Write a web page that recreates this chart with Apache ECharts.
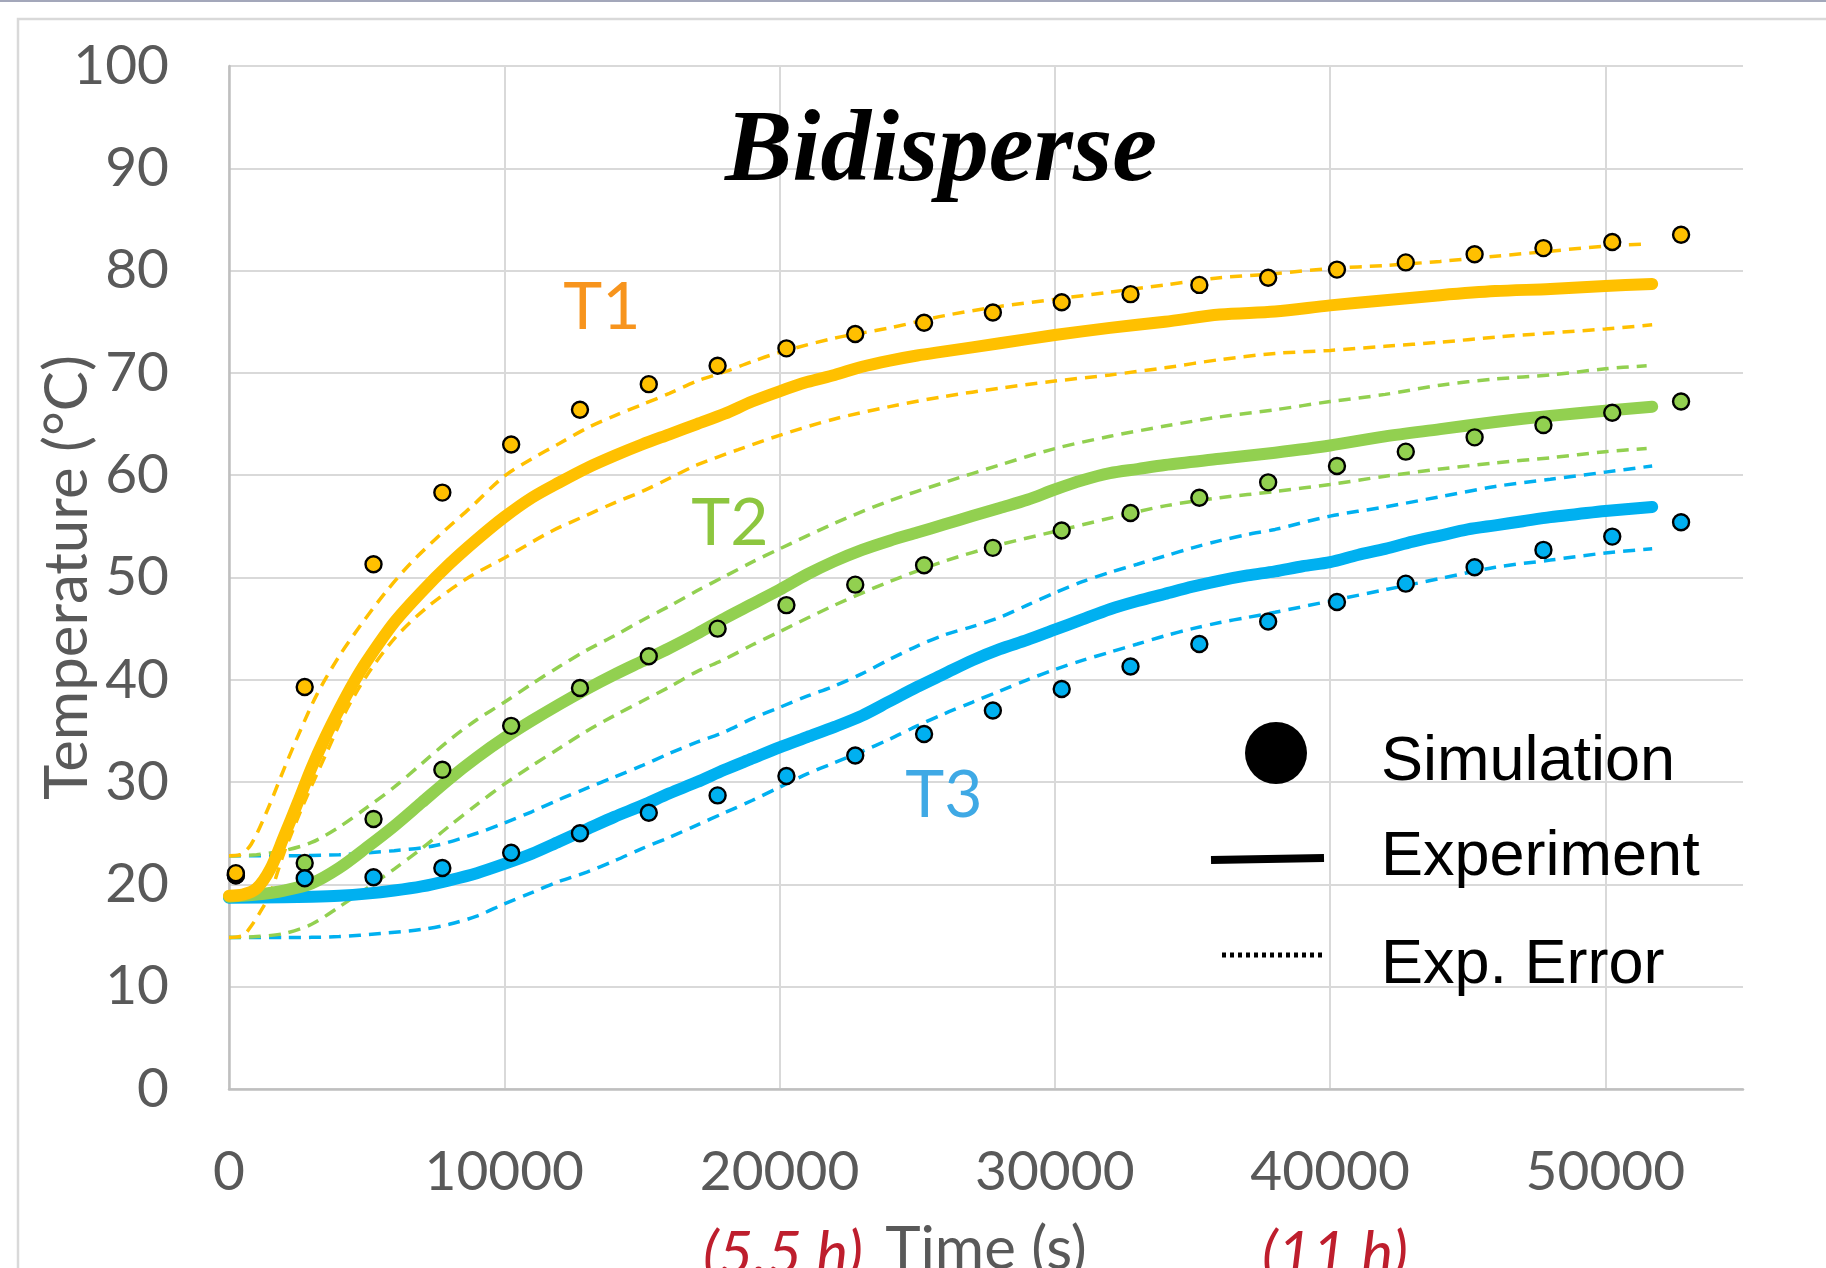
<!DOCTYPE html>
<html>
<head>
<meta charset="utf-8">
<script src="https://cdn.jsdelivr.net/npm/echarts@6/dist/echarts.min.js"></script>
<style>
html,body{margin:0;padding:0;background:#fff;}
#chart{width:1826px;height:1268px;}
</style>
</head>
<body>
<div id="chart"></div>
<script>
// ---------- DATA ----------
var xTicks = [0, 10000, 20000, 30000, 40000, 50000];
var simTime = [250, 2750, 5250, 7750, 10250, 12750, 15250, 17750, 20250, 22750, 25250,
  27750, 30250, 32750, 35250, 37750, 40250, 42750, 45250, 47750, 50250, 52750];
var simT1 = [21.1, 39.3, 51.3, 58.3, 63.0, 66.4, 68.9, 70.7, 72.4, 73.8, 74.9,
  75.9, 76.9, 77.7, 78.6, 79.3, 80.1, 80.8, 81.6, 82.2, 82.8, 83.5];
var simT2 = [20.9, 22.1, 26.4, 31.2, 35.5, 39.2, 42.3, 45.0, 47.3, 49.3, 51.2,
  52.9, 54.6, 56.3, 57.8, 59.3, 60.9, 62.3, 63.7, 64.9, 66.1, 67.2];
var simT3 = [20.9, 20.6, 20.7, 21.6, 23.1, 25.0, 27.0, 28.7, 30.6, 32.6, 34.7,
  37.0, 39.1, 41.3, 43.5, 45.7, 47.6, 49.4, 51.0, 52.7, 54.0, 55.4];

var expT1 = [[0,18.9],[500,19.0],[1000,19.6],[1500,21.5],[2000,24.7],[2500,28.0],[3000,31.4],[3500,34.4],[4000,37.1],[4500,39.6],[5000,41.8],[6000,45.6],[7000,48.6],[8000,51.3],[9000,53.7],[10000,55.9],[11000,57.8],[12000,59.3],[13000,60.7],[14000,61.9],[15000,63.0],[16000,64.0],[17000,65.0],[18000,66.0],[19000,67.2],[20000,68.2],[21000,69.1],[22000,69.8],[23000,70.6],[24000,71.2],[25000,71.7],[26000,72.1],[28000,72.9],[30000,73.7],[32000,74.4],[34000,75.0],[36000,75.7],[38000,76.0],[40000,76.6],[42000,77.1],[44000,77.6],[46000,78.0],[48000,78.2],[50000,78.5],[51700,78.7]];
var expT2 = [[0,18.8],[1000,19.0],[2000,19.4],[3000,20.1],[4000,21.6],[5000,23.6],[6000,25.7],[7000,28.0],[8000,30.3],[9000,32.4],[10000,34.3],[11000,36.0],[12000,37.6],[13000,39.1],[14000,40.5],[15000,41.8],[16000,43.1],[17000,44.5],[18000,46.0],[19000,47.4],[20000,48.8],[21000,50.3],[22000,51.6],[23000,52.7],[24000,53.6],[25000,54.4],[26000,55.2],[27000,56.0],[28000,56.8],[29000,57.6],[30000,58.6],[31000,59.5],[32000,60.2],[33000,60.6],[34000,61.0],[36000,61.6],[38000,62.2],[40000,62.9],[42000,63.8],[44000,64.5],[46000,65.2],[48000,65.8],[50000,66.3],[51700,66.7]];
var expT3 = [[0,18.7],[2000,18.75],[3000,18.8],[4000,18.9],[5000,19.1],[6000,19.4],[7000,19.8],[8000,20.4],[9000,21.1],[10000,22.0],[11000,23.0],[12000,24.2],[13000,25.4],[14000,26.6],[15000,27.7],[16000,28.9],[17000,30.0],[18000,31.2],[19000,32.3],[20000,33.4],[21000,34.4],[22000,35.4],[23000,36.5],[24000,37.9],[25000,39.3],[26000,40.6],[27000,41.9],[28000,43.0],[29000,43.9],[30000,44.9],[31000,45.9],[32000,46.9],[33000,47.7],[34000,48.4],[35000,49.1],[36000,49.7],[37000,50.2],[38000,50.6],[39000,51.1],[40000,51.5],[41000,52.2],[42000,52.8],[43000,53.5],[44000,54.1],[45000,54.7],[46000,55.1],[47000,55.5],[48000,55.9],[49000,56.2],[50000,56.5],[51700,56.9]];

var errT1Up = [[0,22.8],[400,22.9],[800,23.9],[1400,27.3],[2000,31.3],[2600,35.1],[3200,38.6],[4000,42.3],[4800,45.4],[5700,48.6],[6600,51.4],[7800,54.5],[8800,56.9],[10000,59.9],[11000,61.6],[12000,63.1],[13000,64.6],[14000,65.8],[15000,66.9],[16000,68.0],[17000,69.2],[18000,70.1],[19000,71.1],[20000,72.0],[22000,73.4],[24000,74.4],[26000,75.6],[28000,76.5],[30000,77.2],[32000,77.9],[34000,78.6],[36000,79.3],[38000,79.7],[40000,80.2],[42000,80.5],[44000,80.9],[46000,81.4],[48000,81.9],[50000,82.4],[51500,82.6]];
var errT1Lo = [[0,14.8],[500,15.0],[800,15.9],[1200,17.6],[1500,19.1],[2000,23.1],[2700,27.8],[3500,32.6],[4200,36.7],[5000,40.4],[6000,44.0],[7200,47.1],[8700,50.0],[10000,51.9],[11700,54.5],[13000,56.1],[14000,57.3],[15000,58.4],[16000,59.7],[17000,61.0],[18500,62.5],[20000,63.9],[22000,65.5],[24000,66.7],[26000,67.7],[28000,68.5],[30000,69.2],[32000,69.8],[34000,70.5],[36000,71.3],[38000,71.9],[40000,72.2],[42000,72.6],[44000,73.0],[46000,73.5],[48000,73.9],[50000,74.3],[51700,74.7]];
var errT2Up = [[0,22.8],[1000,22.9],[2000,23.3],[3000,24.1],[4000,25.6],[5000,27.5],[6000,29.5],[7000,31.8],[8000,34.1],[9000,36.1],[10000,37.8],[11000,39.6],[12000,41.3],[13000,42.9],[14000,44.3],[15000,45.8],[16000,47.2],[17000,48.7],[18000,50.1],[19000,51.5],[20000,52.8],[22000,55.3],[24000,57.5],[26000,59.3],[28000,61.0],[30000,62.6],[32000,63.8],[34000,64.8],[36000,65.7],[38000,66.4],[40000,67.2],[42000,67.9],[44000,68.8],[46000,69.4],[48000,69.8],[50000,70.4],[51500,70.7]];
var errT2Lo = [[0,14.8],[1000,14.9],[2000,15.2],[3000,16.1],[4000,17.8],[5000,19.6],[6000,21.5],[7000,23.5],[8000,25.7],[9000,27.8],[10000,29.8],[11000,31.6],[12000,33.3],[13000,35.0],[14000,36.5],[15000,37.9],[16000,39.3],[17000,40.8],[18000,42.0],[19000,43.4],[20000,44.7],[22000,47.3],[24000,49.6],[26000,51.6],[28000,53.2],[30000,54.5],[32000,55.8],[34000,57.0],[36000,57.8],[38000,58.4],[40000,59.1],[42000,59.9],[44000,60.6],[46000,61.2],[48000,61.7],[50000,62.3],[51500,62.6]];
var errT3Up = [[0,22.8],[2000,22.8],[4000,22.9],[6000,23.3],[7500,23.8],[9000,25.0],[10000,26.0],[11000,27.1],[12000,28.3],[13000,29.4],[14000,30.5],[15000,31.6],[16000,32.8],[17000,33.9],[18000,34.9],[19000,36.2],[20000,37.3],[21000,38.4],[22000,39.4],[23000,40.6],[24000,42.0],[25000,43.3],[26000,44.4],[27000,45.2],[28000,46.1],[29000,47.3],[30000,48.5],[31000,49.6],[32000,50.5],[33000,51.3],[34000,52.1],[35000,52.9],[36000,53.6],[37000,54.2],[38000,54.7],[40000,56.0],[42000,56.9],[44000,57.9],[46000,58.9],[48000,59.6],[50000,60.3],[51700,60.9]];
var errT3Lo = [[0,14.8],[2000,14.8],[4000,14.9],[5500,15.2],[7000,15.6],[8000,16.1],[9000,16.9],[10000,18.1],[11000,19.2],[12000,20.3],[13000,21.2],[14000,22.3],[15000,23.5],[16000,24.6],[17000,25.8],[18000,27.0],[19000,28.2],[20000,29.5],[21000,30.8],[22000,31.9],[23000,33.0],[24000,34.2],[25000,35.5],[26000,36.7],[27000,37.8],[28000,38.9],[29000,40.0],[30000,41.0],[31000,41.9],[32000,42.7],[33000,43.5],[34000,44.3],[35000,45.0],[36000,45.6],[37000,46.1],[38000,46.6],[40000,47.7],[42000,48.8],[44000,49.9],[46000,51.0],[48000,51.7],[50000,52.4],[51700,52.8]];

// ---------- STYLE ----------
var C1 = '#FFC000', C2 = '#92D050', C3 = '#00B0F0';
var FT = 'Lato, "Open Sans", sans-serif';
var GRAY = '#595959';

function pairs(xs, ys) { return xs.map(function (x, i) { return [x, ys[i]]; }); }

function expSeries(name, data, color) {
  return { name: name, type: 'line', data: data, smooth: 0.3, showSymbol: false, symbol: 'none',
    z: 3, silent: true,
    lineStyle: { color: color, width: 12, cap: 'round', join: 'round' } };
}
function errSeries(name, data, color) {
  return { name: name, type: 'line', data: data, smooth: 0.3, showSymbol: false, symbol: 'none',
    z: 2, silent: true,
    lineStyle: { color: color, width: 3.5, type: [12, 8] } };
}
function simSeries(name, data, color) {
  return { name: name, type: 'scatter', data: data, symbol: 'circle', symbolSize: 16, z: 4, silent: true,
    itemStyle: { color: color, borderColor: '#000', borderWidth: 2.4, opacity: 1 } };
}

var chart = echarts.init(document.getElementById('chart'), null, { renderer: 'canvas' });
var option = {
  animation: false,
  backgroundColor: '#ffffff',
  grid: { left: 229, top: 66, right: 83, bottom: 179, containLabel: false, outerBoundsMode: 'none' },
  xAxis: {
    type: 'value', min: 0, max: 55000, interval: 10000,
    axisLine: { show: true, lineStyle: { color: '#bfbfbf', width: 2.5 } },
    axisTick: { show: false },
    splitLine: { show: true, showMaxLine: false, lineStyle: { color: '#d9d9d9', width: 2 } },
    axisLabel: { color: GRAY, fontFamily: FT, fontSize: 55, margin: 56,
      formatter: function (v) { return xTicks.indexOf(v) >= 0 ? String(v) : ''; } },
    name: 'Time (s)', nameLocation: 'middle', nameGap: 131, nameMoveOverlap: false,
    nameTextStyle: { color: GRAY, fontFamily: FT, fontSize: 60 }
  },
  yAxis: {
    type: 'value', min: 0, max: 100, interval: 10,
    axisLine: { show: true, lineStyle: { color: '#bfbfbf', width: 2.5 } },
    axisTick: { show: false },
    splitLine: { show: true, lineStyle: { color: '#d9d9d9', width: 2 } },
    axisLabel: { color: GRAY, fontFamily: FT, fontSize: 55, margin: 60 },
    name: 'Temperature (°C)', nameLocation: 'middle', nameGap: 131, nameRotate: 90, nameMoveOverlap: false,
    nameTextStyle: { color: GRAY, fontFamily: FT, fontSize: 60 }
  },
  series: [
    errSeries('T3 err+', errT3Up, C3), errSeries('T3 err-', errT3Lo, C3),
    errSeries('T2 err+', errT2Up, C2), errSeries('T2 err-', errT2Lo, C2),
    errSeries('T1 err+', errT1Up, C1), errSeries('T1 err-', errT1Lo, C1),
    expSeries('T3 exp', expT3, C3), expSeries('T2 exp', expT2, C2), expSeries('T1 exp', expT1, C1),
    simSeries('T2 sim', pairs(simTime, simT2), C2),
    simSeries('T3 sim', pairs(simTime, simT3), C3),
    simSeries('T1 sim', pairs(simTime, simT1), C1)
  ],
  graphic: [
    { type: 'line', z: -1, shape: { x1: 0, y1: 1, x2: 1826, y2: 1 }, style: { stroke: '#a3a7ba', lineWidth: 2 } },
    { type: 'rect', z: -1, shape: { x: 18, y: 19, width: 1900, height: 1400 }, style: { fill: 'none', stroke: '#d9d9d9', lineWidth: 2.5 } },
    { type: 'text', x: 941, y: 154, z: 10,
      style: { text: 'Bidisperse', fill: '#000', font: 'italic bold 101px "Liberation Serif", "DejaVu Serif", serif',
        textAlign: 'center', textVerticalAlign: 'middle', align: 'center', verticalAlign: 'middle' } },
    { type: 'text', x: 602, y: 308, z: 10,
      style: { text: 'T1', fill: '#F7941D', font: '66px ' + FT, textAlign: 'center', textVerticalAlign: 'middle', align: 'center', verticalAlign: 'middle' } },
    { type: 'text', x: 730, y: 524, z: 10,
      style: { text: 'T2', fill: '#8DC63F', font: '66px ' + FT, textAlign: 'center', textVerticalAlign: 'middle', align: 'center', verticalAlign: 'middle' } },
    { type: 'text', x: 944, y: 796, z: 10,
      style: { text: 'T3', fill: '#3FA9E5', font: '66px ' + FT, textAlign: 'center', textVerticalAlign: 'middle', align: 'center', verticalAlign: 'middle' } },
    // legend
    { type: 'circle', z: 10, shape: { cx: 1276, cy: 753, r: 31 }, style: { fill: '#000' } },
    { type: 'line', z: 10, shape: { x1: 1211, y1: 860, x2: 1324, y2: 858 }, style: { stroke: '#000', lineWidth: 8 } },
    { type: 'line', z: 10, shape: { x1: 1222, y1: 955, x2: 1324, y2: 955 }, style: { stroke: '#000', lineWidth: 5, lineDash: [4, 4] } },
    { type: 'text', x: 1381, y: 763, z: 10,
      style: { text: 'Simulation', fill: '#000', font: '63px "Liberation Sans", Arial, sans-serif', textAlign: 'left', textVerticalAlign: 'middle', align: 'left', verticalAlign: 'middle' } },
    { type: 'text', x: 1381, y: 858, z: 10,
      style: { text: 'Experiment', fill: '#000', font: '63px "Liberation Sans", Arial, sans-serif', textAlign: 'left', textVerticalAlign: 'middle', align: 'left', verticalAlign: 'middle' } },
    { type: 'text', x: 1381, y: 966, z: 10,
      style: { text: 'Exp. Error', fill: '#000', font: '63px "Liberation Sans", Arial, sans-serif', textAlign: 'left', textVerticalAlign: 'middle', align: 'left', verticalAlign: 'middle' } },
    // hour annotations
    { type: 'text', x: 783, y: 1255, z: 10,
      style: { text: '(5.5 h)', fill: '#BE1E2D', font: 'italic 60px ' + FT, textAlign: 'center', textVerticalAlign: 'middle', align: 'center', verticalAlign: 'middle' } },
    { type: 'text', x: 1335, y: 1255, z: 10,
      style: { text: '(11 h)', fill: '#BE1E2D', font: 'italic 60px ' + FT, textAlign: 'center', textVerticalAlign: 'middle', align: 'center', verticalAlign: 'middle' } }
  ]
};
chart.setOption(option);
</script>
</body>
</html>
